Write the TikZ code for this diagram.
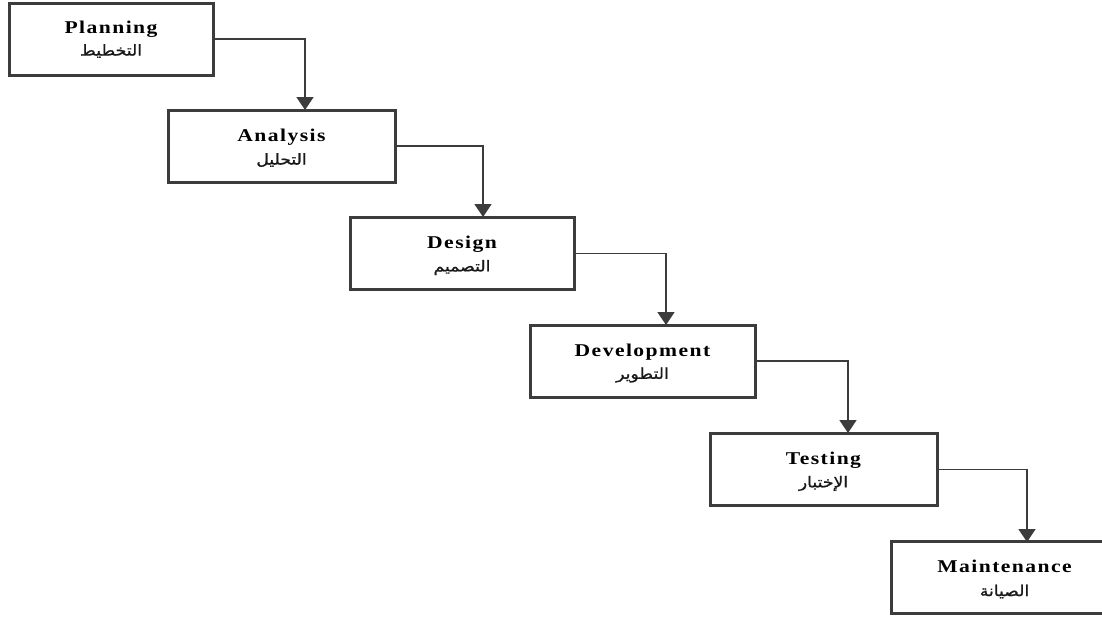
\documentclass[tikz,border=0pt]{standalone}
\usepackage{fontspec}
\usetikzlibrary{arrows.meta}
\TeXXeTstate=1
\setmainfont{Liberation Serif}
\newfontfamily\enf{Liberation Serif}[FakeStretch=1.2,LetterSpace=8]
\newfontfamily\arf[Script=Arabic,FakeBold=1.2,FakeStretch=1.15]{DejaVu Sans}
\definecolor{edge}{HTML}{3C3C3C}
\tikzset{
  box/.style={draw=edge, line width=3pt, fill=white, rectangle, minimum height=72pt, inner sep=0pt},
  en/.style={font=\enf\bfseries\fontsize{18}{20}\selectfont, text=black, anchor=base, inner sep=0pt},
  ar/.style={font=\arf\fontsize{15}{17}\selectfont, text=black!90, inner sep=0pt},
  conn/.style={draw=edge, line width=1.6pt, -{Triangle[width=17pt,length=13pt]}}
}
\begin{document}
\begin{tikzpicture}[x=1pt,y=-1pt]
\useasboundingbox (0,0) rectangle (1102,619);
\clip (0,0) rectangle (1102,619);
% boxes
\node[box, minimum width=204pt] (P) at (111,39) {};
\node[box, minimum width=227pt] (A) at (281.5,146) {};
\node[box, minimum width=224pt] (D) at (462,253.5) {};
\node[box, minimum width=225pt] (V) at (642.5,361) {};
\node[box, minimum width=227pt] (T) at (823.5,469.5) {};
\node[box, minimum width=227pt] (M) at (1004.5,577.5) {};
% texts
\node[en] (Pe) at ([yshift=6pt]P.center) {Planning};
\node[ar] (Pa) at ([yshift=-12pt]P.center) {\beginR التخطيط\endR};
\node[en] (Ae) at ([yshift=5pt]A.center) {Analysis};
\node[ar] (Aa) at ([yshift=-14pt]A.center) {\beginR التحليل\endR};
\node[en] (De) at ([yshift=5pt]D.center) {Design};
\node[ar] (Da) at ([yshift=-14pt]D.center) {\beginR التصميم\endR};
\node[en] (Ve) at ([yshift=5pt]V.center) {Development};
\node[ar] (Va) at ([yshift=-14pt]V.center) {\beginR التطوير\endR};
\node[en] (Te) at ([yshift=5pt]T.center) {Testing};
\node[ar] (Ta) at ([yshift=-14pt]T.center) {\beginR الإختبار\endR};
\node[en] (Me) at ([yshift=5pt]M.center) {Maintenance};
\node[ar] (Ma) at ([yshift=-14pt]M.center) {\beginR الصيانة\endR};
% arrow targets
\coordinate (a1) at (305,110);
\coordinate (a2) at (483,217);
\coordinate (a3) at (666,325);
\coordinate (a4) at (848,433);
\coordinate (a5) at (1027,542);
\draw[conn] (P.east) -| (a1);
\draw[conn] (A.east) -| (a2);
\draw[conn] (D.east) -| (a3);
\draw[conn] (V.east) -| (a4);
\draw[conn] (T.east) -| (a5);
\end{tikzpicture}
\end{document}
